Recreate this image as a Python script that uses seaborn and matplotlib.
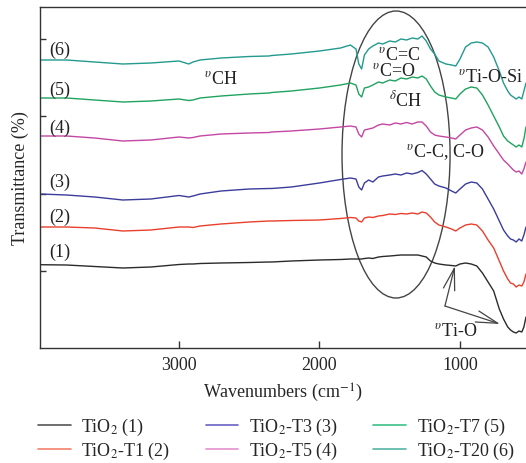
import numpy as np
import pandas as pd
import matplotlib
matplotlib.use("Agg")
import matplotlib.pyplot as plt
from matplotlib.patches import Ellipse
from matplotlib.lines import Line2D
import seaborn as sns

# ---------------- data ----------------
wavenumber = [3990, 3800, 3600, 3400, 3200, 3000, 2930, 2900, 2850, 2700, 2500, 2360, 2340,
              2200, 2000, 1850, 1780, 1740, 1720, 1700, 1680, 1650, 1620, 1580, 1550, 1500,
              1460, 1420, 1380, 1340, 1300, 1270, 1240, 1210, 1180, 1150, 1100, 1060, 1030,
              1000, 960, 920, 880, 840, 800, 760, 720, 690, 660, 640, 620, 600, 580, 560,
              545, 530]

t_tio2 = [83.3, 83, 81.5, 80, 81, 83.5, 84, 84, 84.5, 85, 85.5, 86, 86, 87, 88, 88.5, 89, 89,
          89, 89, 89.5, 90, 89.5, 91, 91.5, 92, 92.5, 93, 93, 93, 93, 92, 91, 87, 85, 84, 83,
          82.5, 82, 84, 85, 84, 82, 75, 66, 57, 39, 29, 21, 18, 16, 15, 17, 16, 21, 31]
t_t1 = [121, 121, 120, 117, 118, 121, 121, 120.5, 122, 124, 126, 127, 127, 127.5, 128, 129.5,
        130.5, 130, 127, 126, 130, 131, 130.5, 132, 132.5, 134, 133.5, 134.5, 134, 135, 134,
        136, 135, 131, 126, 123, 121, 119, 117, 120, 123, 124, 123, 117, 108, 100, 87, 77, 69,
        65, 64, 61, 63, 62, 66, 74]
t_t3 = [154, 153, 151, 148, 149, 152.5, 151, 152, 154, 157, 159, 159.5, 159.5, 161, 165, 168.5,
        170, 169, 161, 158, 165, 168, 166, 171, 172, 173, 174, 173, 175, 174, 175.5, 177.5, 174,
        169, 164, 162, 160, 157, 155, 159, 164, 166, 165, 159, 149, 139, 127, 118, 112, 109,
        108, 106, 109, 107, 113, 121]
t_t5 = [212, 212, 210, 207, 208, 211, 210, 210.5, 212, 214, 215, 215.5, 216, 217, 219, 221,
        222, 221, 214, 211, 218, 219, 220, 223, 224, 223, 225, 224, 225.5, 224, 226, 226, 222,
        216, 213, 212, 211, 210, 209, 213, 218, 220, 221, 218, 211, 202, 194, 188, 184, 181,
        178, 176, 177, 174, 179, 186]
t_t7 = [250, 250, 248, 246, 247, 249, 247.5, 248, 250, 252, 254, 255, 255.5, 257, 260, 263,
        265, 263, 254, 251, 260, 261, 263, 266, 265, 268, 267, 270, 269, 271, 270, 272, 269,
        262, 256, 253, 251, 250, 249, 254, 259, 261, 260, 253, 243, 232, 221, 212, 207, 205,
        203, 201, 203, 201, 209, 221]
t_t20 = [288, 288, 286, 284, 285, 287, 284, 286, 288, 290, 291.5, 292, 292.5, 294, 297, 300,
         303, 299, 284, 279, 293, 299, 302, 305, 304, 307, 306, 309, 308, 310, 309, 312, 307,
         299, 294, 287, 284, 283, 282, 289, 301, 305, 306, 305, 301, 291, 277, 265, 257, 253,
         251, 249, 251, 249, 257, 265]

sample_names = ["TiO$_2$ (1)", "TiO$_2$-T1 (2)", "TiO$_2$-T3 (3)",
                "TiO$_2$-T5 (4)", "TiO$_2$-T7 (5)", "TiO$_2$-T20 (6)"]
curve_tags = ["(1)", "(2)", "(3)", "(4)", "(5)", "(6)"]
line_colors = ["#2b2b2b", "#e8402c", "#3c3c9c", "#c347a3", "#1fa35f", "#239a8e"]
legend_colors = ["#555555", "#f4826c", "#6a62c4", "#e291cc", "#3cc088", "#55b5a5"]
x_ticks = [3000, 2000, 1000]

series = [t_tio2, t_t1, t_t3, t_t5, t_t7, t_t20]
df = pd.concat([pd.DataFrame({"wavenumber": wavenumber, "T": s, "sample": n})
                for s, n in zip(series, sample_names)], ignore_index=True)

# ---------------- style ----------------
sns.set_style("ticks")
plt.rcParams["font.family"] = ["Liberation Serif", "DejaVu Serif"]
plt.rcParams["mathtext.fontset"] = "stix"
FS = 13

fig = plt.figure(figsize=(5.26, 4.64), dpi=100)
ax = fig.add_axes([40 / 526, 1 - 349 / 464, 486 / 526, 341 / 464])

sns.lineplot(data=df, x="wavenumber", y="T", hue="sample", palette=line_colors,
             hue_order=sample_names, sort=False, estimator=None, lw=1.0,
             legend=False, ax=ax)

ax.set_xlim(3989, 530)
ax.set_ylim(0, 341)
ax.set_xticks(x_ticks)
ax.set_xticklabels([str(v) for v in x_ticks], fontsize=FS)
ax.set_yticks([77, 154.5, 232, 309])
ax.set_yticklabels([])
ax.tick_params(axis="x", direction="in", length=5, width=1, pad=6, color="#333333")
ax.tick_params(axis="y", direction="in", length=4, width=1, color="#333333")
for side in ["left", "bottom", "top"]:
    ax.spines[side].set_color("#333333")
    ax.spines[side].set_linewidth(1.0)
ax.spines["right"].set_visible(False)

ax.set_xlabel("Wavenumbers (cm$^{-1}$)", fontsize=FS)
ax.xaxis.set_label_coords(0.5, -(382 - 349) / 341)
ax.xaxis.label.set_va("top")
ax.set_ylabel("Transmittance (%)", fontsize=FS)
ax.yaxis.set_label_coords((29 - 40) / 486, 0.5)

# curve tags
tag_y = [97, 132, 167, 221, 259, 299]
for tag, ty in zip(curve_tags, tag_y):
    ax.text(3925, ty, tag, fontsize=FS, ha="left", va="center", color="#222222")

# band annotations
txt_col = "#222222"
ax.text(2700, 269, r"$^{\upsilon}$CH", fontsize=FS, ha="center", va="center", color=txt_col)
ax.text(1430, 293.5, r"$^{\upsilon}$C=C", fontsize=FS, ha="center", va="center", color=txt_col)
ax.text(1470, 277, r"$^{\upsilon}$C=O", fontsize=FS, ha="center", va="center", color=txt_col)
ax.text(1384, 249, r"$^{\delta}$CH", fontsize=FS, ha="center", va="center", color=txt_col)
ax.text(786, 271, r"$^{\upsilon}$Ti-O-Si", fontsize=FS, ha="center", va="center", color=txt_col)
ax.text(1107, 197, r"$^{\upsilon}$C-C, C-O", fontsize=FS, ha="center", va="center", color=txt_col)
ax.text(1028, 17, r"$^{\upsilon}$Ti-O", fontsize=FS, ha="center", va="center", color=txt_col)

ax.add_patch(Ellipse((1455, 193.5), width=769, height=287, fill=False,
                     edgecolor="#444444", lw=1.0))

arrow_kw = dict(arrowstyle="->, head_length=1.2, head_width=0.32", color="#444444",
                lw=0.9, shrinkA=0, shrinkB=0, mutation_scale=13)
ax.annotate("", xy=(1036, 82), xytext=(1107, 42), arrowprops=arrow_kw)
ax.annotate("", xy=(715, 24), xytext=(1107, 42), arrowprops=arrow_kw)

# legend
handles = [Line2D([0], [0], color=c, lw=1.2) for c in legend_colors]
fig.legend(handles, sample_names, loc="upper left", ncol=3,
           bbox_to_anchor=(38 / 526, 1 - 417 / 464), frameon=False, fontsize=FS,
           handlelength=1.8, handletextpad=0.6, columnspacing=1.95,
           labelspacing=0.15, borderpad=0, borderaxespad=0)

fig.savefig("out.png", dpi=100)
